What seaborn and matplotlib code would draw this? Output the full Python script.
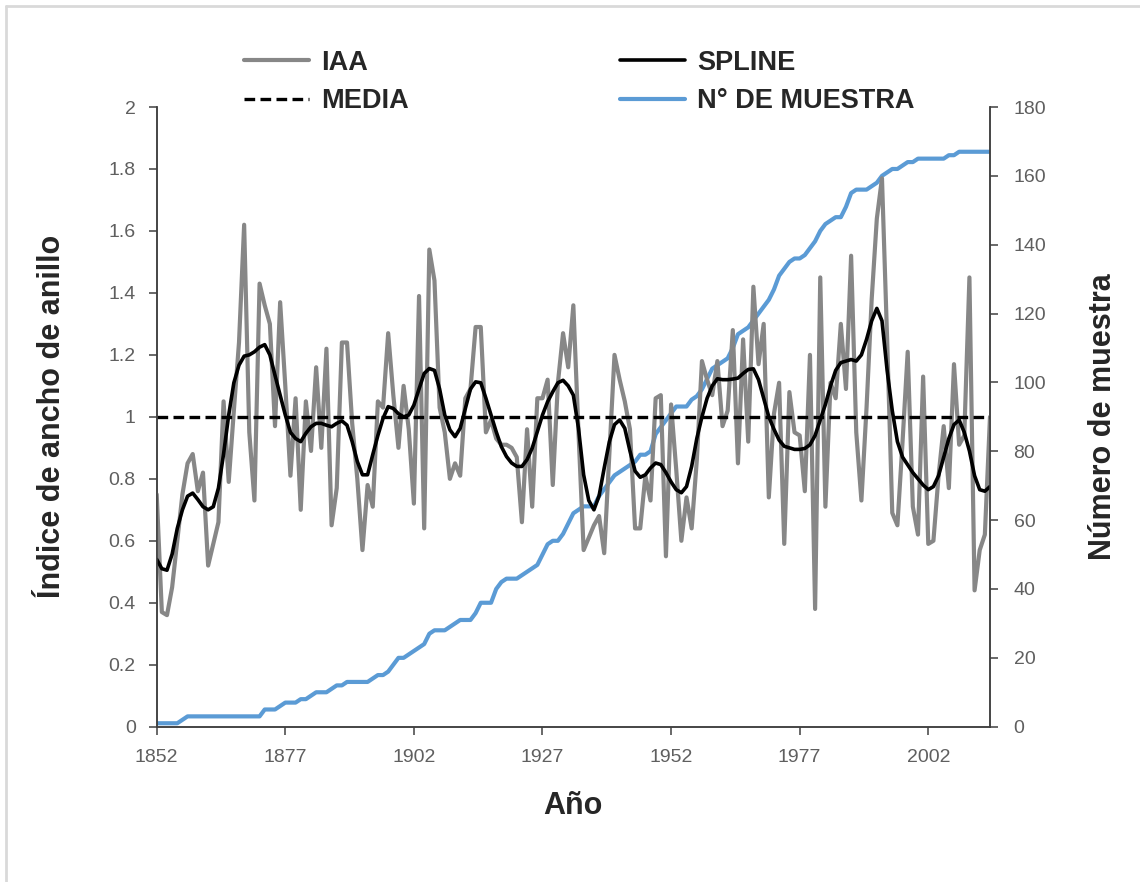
import matplotlib
matplotlib.use("Agg")
import matplotlib.pyplot as plt
import numpy as np
import pandas as pd
import seaborn as sns
from matplotlib.lines import Line2D
from matplotlib.ticker import FuncFormatter, MultipleLocator

# Ring-width index chronology, 1852-2014
years = list(range(1852, 2015))

iaa = [
    0.75, 0.37, 0.36, 0.45, 0.60, 0.75, 0.85, 0.88, 0.76, 0.82,
    0.52, 0.59, 0.66, 1.05, 0.79, 1.02, 1.24, 1.62, 0.95, 0.73,
    1.43, 1.36, 1.30, 0.97, 1.37, 1.10, 0.81, 1.06, 0.70, 1.05,
    0.89, 1.16, 0.90, 1.22, 0.65, 0.77, 1.24, 1.24, 0.98, 0.80,
    0.57, 0.78, 0.71, 1.05, 1.03, 1.27, 1.07, 0.90, 1.10, 0.96,
    0.72, 1.39, 0.64, 1.54, 1.44, 1.03, 0.95, 0.80, 0.85, 0.81,
    1.06, 1.09, 1.29, 1.29, 0.95, 0.99, 0.93, 0.91, 0.91, 0.90,
    0.87, 0.66, 0.96, 0.71, 1.06, 1.06, 1.12, 0.78, 1.11, 1.27,
    1.16, 1.36, 0.95, 0.57, 0.61, 0.65, 0.68, 0.56, 0.88, 1.20,
    1.12, 1.05, 0.96, 0.64, 0.64, 0.81, 0.73, 1.06, 1.07, 0.55,
    1.04, 0.83, 0.60, 0.74, 0.64, 0.86, 1.18, 1.12, 1.07, 1.18,
    0.97, 1.02, 1.28, 0.85, 1.25, 0.92, 1.42, 1.17, 1.30, 0.74,
    1.01, 1.11, 0.59, 1.08, 0.95, 0.94, 0.76, 1.20, 0.38, 1.45,
    0.71, 1.11, 1.06, 1.30, 1.09, 1.52, 0.95, 0.73, 1.03, 1.38,
    1.64, 1.77, 1.25, 0.69, 0.65, 0.92, 1.21, 0.71, 0.62, 1.13,
    0.59, 0.60, 0.81, 0.97, 0.77, 1.17, 0.91, 0.94, 1.45, 0.44,
    0.57, 0.62, 1.00,
]

spline = [
    0.540, 0.510, 0.505, 0.557, 0.640, 0.700, 0.744, 0.754, 0.733, 0.710,
    0.700, 0.710, 0.770, 0.880, 1.006, 1.110, 1.167, 1.196, 1.200, 1.210,
    1.225, 1.233, 1.200, 1.134, 1.070, 1.006, 0.950, 0.930, 0.920, 0.947,
    0.968, 0.979, 0.979, 0.973, 0.968, 0.979, 0.987, 0.973, 0.920, 0.856,
    0.813, 0.813, 0.878, 0.940, 0.995, 1.033, 1.027, 1.010, 1.000, 1.006,
    1.038, 1.090, 1.140, 1.156, 1.150, 1.090, 1.006, 0.958, 0.936, 0.963,
    1.027, 1.090, 1.113, 1.110, 1.060, 1.006, 0.952, 0.904, 0.872, 0.851,
    0.840, 0.840, 0.862, 0.899, 0.952, 1.006, 1.049, 1.081, 1.110, 1.118,
    1.100, 1.070, 0.963, 0.813, 0.730, 0.700, 0.745, 0.835, 0.920, 0.975,
    0.990, 0.963, 0.890, 0.825, 0.805, 0.813, 0.835, 0.851, 0.846, 0.820,
    0.790, 0.765, 0.755, 0.775, 0.840, 0.930, 1.000, 1.060, 1.100, 1.123,
    1.120, 1.120, 1.122, 1.125, 1.140, 1.153, 1.155, 1.120, 1.060, 1.000,
    0.960, 0.925, 0.905, 0.900, 0.895, 0.895, 0.898, 0.910, 0.940, 0.990,
    1.040, 1.100, 1.150, 1.175, 1.180, 1.185, 1.180, 1.200, 1.250, 1.310,
    1.350, 1.310, 1.150, 1.020, 0.920, 0.870, 0.845, 0.820, 0.800, 0.780,
    0.765, 0.775, 0.810, 0.870, 0.930, 0.975, 0.990, 0.950, 0.890, 0.810,
    0.765, 0.760, 0.775,
]

n_muestra = [
    1, 1, 1, 1, 1, 2, 3, 3, 3, 3,
    3, 3, 3, 3, 3, 3, 3, 3, 3, 3,
    3, 5, 5, 5, 6, 7, 7, 7, 8, 8,
    9, 10, 10, 10, 11, 12, 12, 13, 13, 13,
    13, 13, 14, 15, 15, 16, 18, 20, 20, 21,
    22, 23, 24, 27, 28, 28, 28, 29, 30, 31,
    31, 31, 33, 36, 36, 36, 40, 42, 43, 43,
    43, 44, 45, 46, 47, 50, 53, 54, 54, 56,
    59, 62, 63, 64, 64, 64, 67, 69, 71, 73,
    74, 75, 76, 77, 79, 79, 80, 85, 87, 89,
    91, 93, 93, 93, 95, 96, 98, 101, 104, 105,
    106, 107, 110, 114, 115, 116, 118, 120, 122, 124,
    127, 131, 133, 135, 136, 136, 137, 139, 141, 144,
    146, 147, 148, 148, 151, 155, 156, 156, 156, 157,
    158, 160, 161, 162, 162, 163, 164, 164, 165, 165,
    165, 165, 165, 165, 166, 166, 167, 167, 167, 167,
    167, 167, 167,
]

media = 1.0

x_ticks = [1852, 1877, 1902, 1927, 1952, 1977, 2002]

df = pd.DataFrame({
    "Año": years,
    "IAA": iaa,
    "SPLINE": spline,
    "MEDIA": [media] * len(years),
    "N": n_muestra,
})

sns.set_style("white")
plt.rcParams["font.family"] = ["Liberation Sans", "DejaVu Sans"]

C_IAA = "#878787"
C_SPLINE = "#000000"
C_N = "#5B9BD5"
C_AXIS = "#404040"
C_TICK = "#5F5F5F"

fig = plt.figure(figsize=(11.4, 8.82), dpi=100)
W, H = 1140, 882
left, right, top, bottom = 156.7, 990.0, 107.0, 726.7
ax = fig.add_axes([left / W, 1 - bottom / H, (right - left) / W, (bottom - top) / H])
ax2 = ax.twinx()

sns.lineplot(data=df, x="Año", y="N", ax=ax2, color=C_N, lw=3.0, legend=False)
sns.lineplot(data=df, x="Año", y="IAA", ax=ax, color=C_IAA, lw=3.0, legend=False)
sns.lineplot(data=df, x="Año", y="MEDIA", ax=ax, color=C_SPLINE, lw=2.4,
             linestyle=(0, (3.2, 1.6)), legend=False)
sns.lineplot(data=df, x="Año", y="SPLINE", ax=ax, color=C_SPLINE, lw=2.6, legend=False)

ax.set_zorder(ax2.get_zorder() + 1)
ax.patch.set_visible(False)

ax.set_xlim(years[0], years[-1])
ax.set_ylim(0, 2)
ax2.set_ylim(0, 180)
ax.set_xticks(x_ticks)
ax.yaxis.set_major_locator(MultipleLocator(0.2))
ax2.yaxis.set_major_locator(MultipleLocator(20))
ax.yaxis.set_major_formatter(FuncFormatter(lambda v, p: f"{v:g}"))

for a in (ax, ax2):
    for side in ("left", "right", "bottom"):
        a.spines[side].set_visible(True)
        a.spines[side].set_color(C_AXIS)
        a.spines[side].set_linewidth(1.1)
    a.spines["top"].set_visible(False)
    a.tick_params(axis="both", which="major", direction="out", length=6,
                  width=1.1, color=C_AXIS, labelsize=14, labelcolor=C_TICK)
    a.grid(False)
ax.tick_params(axis="y", left=True, right=False, pad=9)
ax.tick_params(axis="x", bottom=True, pad=10)
ax2.tick_params(axis="y", right=True, left=False, pad=11)

ax.set_xlabel("Año", fontsize=22, fontweight="bold", labelpad=18)
ax.set_ylabel("Índice de ancho de anillo", fontsize=22, fontweight="bold", labelpad=30)
ax2.set_ylabel("Número de muestra", fontsize=22, fontweight="bold", labelpad=30,
               rotation=90)

handles = [
    Line2D([], [], color=C_IAA, lw=3.0),
    Line2D([], [], color=C_SPLINE, lw=2.4, linestyle=(0, (3.2, 1.6))),
    Line2D([], [], color=C_SPLINE, lw=2.6),
    Line2D([], [], color=C_N, lw=3.0),
]
labels = ["IAA", "MEDIA", "SPLINE", "N° DE MUESTRA"]
fig.legend(handles, labels, ncol=2, loc="center",
           bbox_to_anchor=(579 / W, 1 - 82 / H), frameon=False,
           prop={"size": 19.5, "weight": "bold"}, handlelength=2.4,
           handletextpad=0.45, columnspacing=7.8, labelspacing=0.45,
           borderpad=0, borderaxespad=0)

# light frame around the chart area
frame_kw = dict(color="#D9D9D9", lw=2.0, transform=fig.transFigure, clip_on=False)
fig.add_artist(Line2D([6 / W, 6 / W], [0, 1 - 6 / H], **frame_kw))
fig.add_artist(Line2D([6 / W, 1], [1 - 6 / H, 1 - 6 / H], **frame_kw))

fig.savefig("out.png", dpi=100, facecolor="white")
